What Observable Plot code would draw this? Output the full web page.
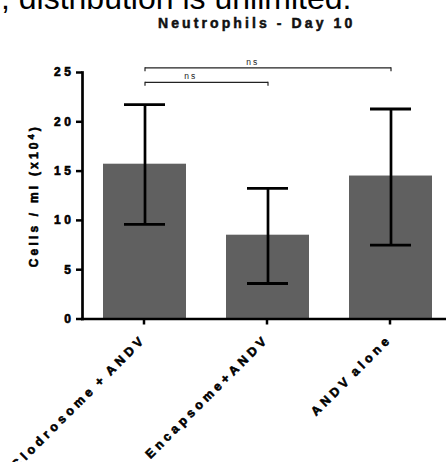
<!DOCTYPE html>
<html><head><meta charset="utf-8">
<script src="https://cdn.jsdelivr.net/npm/d3@7"></script>
<script src="https://cdn.jsdelivr.net/npm/@observablehq/plot@0.6"></script>
<style>
body{margin:0;background:#fff;}
#wrap{position:relative;width:446px;height:462px;overflow:hidden;font-family:"Liberation Sans",Arial,sans-serif;}
#chart{position:absolute;left:0;top:0;}
#frag{position:absolute;left:1px;top:-18px;font-size:32px;line-height:32px;white-space:nowrap;color:#000;}
#title{position:absolute;left:158px;top:16px;font-size:14px;line-height:14px;font-weight:bold;letter-spacing:3.1px;white-space:nowrap;color:#111;-webkit-text-stroke:0.5px #111;}
svg text{font-family:"Liberation Sans",Arial,sans-serif;}
svg g[aria-label="y-axis tick label"] text{letter-spacing:3.6px;font-size:12px;font-weight:bold;stroke:#000;stroke-width:0.6px;}
svg g[aria-label="x-axis tick label"] text{letter-spacing:4px;word-spacing:-3px;font-size:12.5px;font-weight:bold;stroke:#000;stroke-width:0.6px;}
svg text.ylab{letter-spacing:3.2px;font-size:12px;font-weight:bold;stroke:#000;stroke-width:0.6px;}
svg text.nslab{letter-spacing:2px;font-size:8.5px;}
</style></head>
<body><div id="wrap"><div id="chart"></div><div id="frag"></div><div id="title"></div></div>
<script>
const fragmentText = "; distribution is unlimited.";
const titleText = "Neutrophils - Day 10";
const yLabel = "Cells / ml (x10";
const ySup = "4";
const yLabelEnd = ")";
const groups = ["Clodrosome + ANDV", "Encapsome+ANDV", "ANDV alone"];
const means = [15.7, 8.5, 14.5];
const lower = [9.6, 3.6, 7.5];
const upper = [21.75, 13.25, 21.3];
const yTicks = [0, 5, 10, 15, 20, 25];
const bracketFrom = ["Clodrosome + ANDV", "Clodrosome + ANDV"];
const bracketTo = ["Encapsome+ANDV", "ANDV alone"];
const bracketY = [24, 25.47];
const bracketLabel = ["ns", "ns"];

document.getElementById("frag").textContent = fragmentText;
document.getElementById("title").textContent = titleText;

const data = groups.map((g, i) => ({group: g, mean: means[i], lo: lower[i], hi: upper[i]}));
const brackets = bracketFrom.map((f, i) => ({from: f, to: bracketTo[i], y: bracketY[i], label: bracketLabel[i]}));
const font = "'Liberation Sans', Arial, sans-serif";

const chart = Plot.plot({
  width: 446, height: 462,
  marginTop: 72, marginBottom: 143.5, marginLeft: 82, marginRight: 0,
  x: {domain: groups, range: [62.6, 472.4], paddingInner: 0.326, paddingOuter: 0.326, label: null},
  y: {domain: [0, 25], label: null},
  style: {fontFamily: font, background: "white", overflow: "visible", color: "#000"},
  marks: [
    Plot.barY(data, {x: "group", y: "mean", fill: "#606060"}),
    Plot.ruleX(data, {x: "group", y1: "lo", y2: "hi", stroke: "#000", strokeWidth: 2.7}),
    Plot.tickY(data, {x: "group", y: "lo", stroke: "#000", strokeWidth: 2.8, insetLeft: 21, insetRight: 21}),
    Plot.tickY(data, {x: "group", y: "hi", stroke: "#000", strokeWidth: 2.8, insetLeft: 21, insetRight: 21}),
    Plot.frame({anchor: "left", stroke: "#000", strokeWidth: 2.7}),
    Plot.frame({anchor: "bottom", stroke: "#000", strokeWidth: 2.7}),
    Plot.axisY({ticks: yTicks, tickSize: 6, tickPadding: 2, tickFormat: d => String(d), strokeWidth: 2.5, label: null}),
    Plot.axisX({tickSize: 6, tickRotate: -45, tickPadding: 12, dx: -1, strokeWidth: 2.5, label: null}),
    Plot.link(brackets, {x1: "from", x2: "to", y1: "y", y2: "y", stroke: "#222", strokeWidth: 1.2}),
    Plot.ruleX(brackets, {x: "from", y1: "y", y2: "y", insetBottom: -4, stroke: "#222", strokeWidth: 1.2}),
    Plot.ruleX(brackets, {x: "to", y1: "y", y2: "y", insetBottom: -4, stroke: "#222", strokeWidth: 1.2}),
    Plot.text(brackets.slice(0, 1), {x: "from", y: "y", text: "label", dx: 45.7, dy: -3, lineAnchor: "bottom", fill: "#222"}),
    Plot.text(brackets.slice(1, 2), {x: "from", y: "y", text: "label", dx: 107.7, dy: -3, lineAnchor: "bottom", fill: "#222"}),
    Plot.text([yLabel], {frameAnchor: "left", textAnchor: "middle", rotate: -90, dx: -48, fill: "#000"})
  ]
});
document.getElementById("chart").appendChild(chart);

const svg = d3.select(chart);
svg.selectAll("text").filter(function() { return this.textContent === "ns"; }).classed("nslab", true);
// superscript exponent in the y label
svg.selectAll("text").filter(function() { return this.textContent === yLabel; }).each(function() {
  const t = d3.select(this).classed("ylab", true);
  t.text(null);
  t.append("tspan").text(yLabel);
  t.append("tspan").attr("dy", "-0.55em").attr("font-size", "8.5px").text(ySup);
  t.append("tspan").attr("dy", "0.4em").text(yLabelEnd);
});
</script>
</body></html>
